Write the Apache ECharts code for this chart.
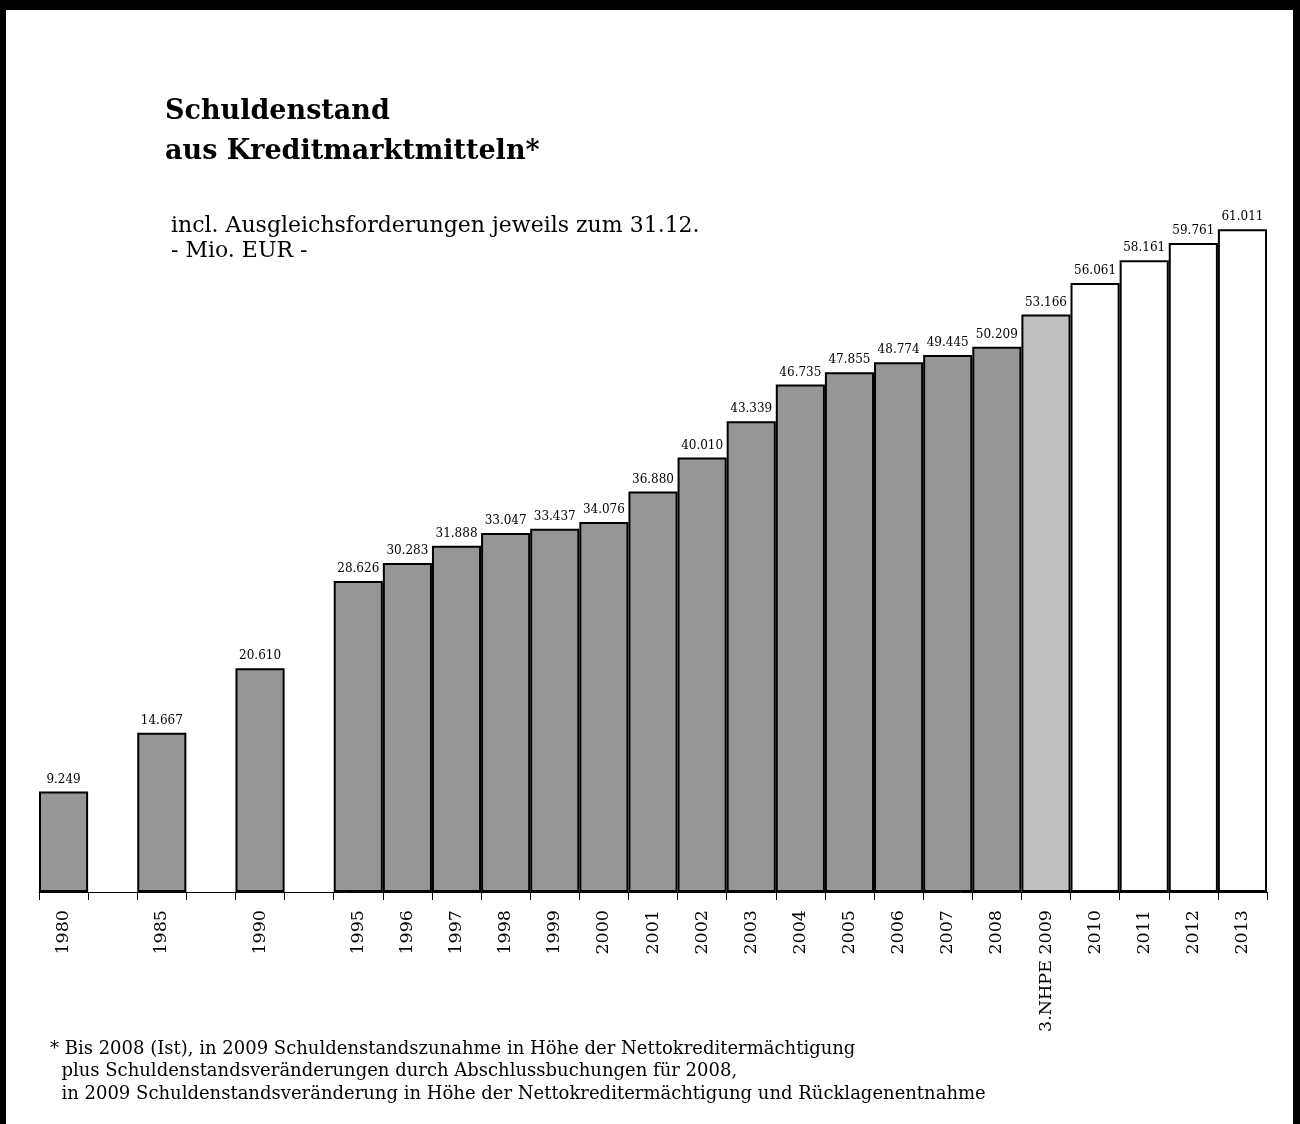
<!DOCTYPE html>
<html>
<head>
<meta charset="utf-8">
<script src="https://cdn.jsdelivr.net/npm/echarts@6/dist/echarts.min.js"></script>
<style>
  html, body { margin: 0; padding: 0; background: #fff; }
  #chart { width: 1300px; height: 1124px; }
</style>
</head>
<body>
<div id="chart"></div>
<script>
// Jahre (leere Kategorien = Lücken zwischen 1980/1985/1990/1995)
const years = ['1980', '', '1985', '', '1990', '', '1995', '1996', '1997', '1998', '1999', '2000',
  '2001', '2002', '2003', '2004', '2005', '2006', '2007', '2008', '3.NHPE 2009', '2010', '2011', '2012', '2013']
// Schuldenstand in Mio. EUR
const debt = [9249, null, 14667, null, 20610, null, 28626, 30283, 31888, 33047, 33437, 34076,
  36880, 40010, 43339, 46735, 47855, 48774, 49445, 50209, 53166, 56061, 58161, 59761, 61011]
const footnote = [
  '* Bis 2008 (Ist), in 2009 Schuldenstandszunahme in Höhe der Nettokreditermächtigung',
  '  plus Schuldenstandsveränderungen durch Abschlussbuchungen für 2008,',
  '  in 2009 Schuldenstandsveränderung in Höhe der Nettokreditermächtigung und Rücklagenentnahme'
]

const serif = '"DejaVu Serif", "Liberation Serif", serif'

function barColor(label) {
  if (label.indexOf('2009') >= 0) return '#c0c0c0'
  if (+label >= 2010) return '#ffffff'
  return '#969696'
}

const chart = echarts.init(document.getElementById('chart'))
chart.setOption({
  animation: false,
  backgroundColor: '#fff',
  grid: { left: 39, right: 33, top: 186, bottom: 232 },
  xAxis: {
    type: 'category',
    data: years,
    boundaryGap: true,
    axisLine: { lineStyle: { color: '#000', width: 1 } },
    axisTick: { show: true, length: 8, interval: 0, lineStyle: { color: '#000' } },
    axisLabel: {
      interval: 0, rotate: 90, margin: 18,
      fontFamily: serif, fontSize: 17.5, color: '#000'
    }
  },
  yAxis: { type: 'value', min: 0, max: 65000, show: false, splitLine: { show: false } },
  series: [{
    type: 'bar',
    barCategoryGap: '0%',
    data: debt.map((v, i) => ({
      value: v,
      itemStyle: { color: barColor(years[i]), borderColor: '#000', borderWidth: 2 }
    })),
    label: {
      show: true, position: 'top', distance: 6,
      fontFamily: serif, fontSize: 12, color: '#000',
      formatter: p => p.value == null ? '' : (p.value / 1000).toFixed(3)
    }
  }],
  graphic: [
    { type: 'rect', left: 0, top: 0, shape: { width: 1300, height: 10 }, style: { fill: '#000' } },
    { type: 'rect', left: 0, top: 0, shape: { width: 6, height: 1124 }, style: { fill: '#000' } },
    { type: 'rect', left: 1293, top: 0, shape: { width: 7, height: 1124 }, style: { fill: '#000' } },
    {
      type: 'text', left: 165, top: 92,
      style: { text: 'Schuldenstand\naus Kreditmarktmitteln*', font: 'bold 27px ' + serif, fill: '#000', lineHeight: 40 }
    },
    {
      type: 'text', left: 171, top: 214,
      style: { text: 'incl. Ausgleichsforderungen jeweils zum 31.12.\n- Mio. EUR -', font: '22px ' + serif, fill: '#000', lineHeight: 25 }
    },
    {
      type: 'text', left: 50, top: 1038,
      style: { text: footnote.join('\n'), font: '18px ' + serif, fill: '#000', lineHeight: 22.5 }
    }
  ]
})
</script>
</body>
</html>
